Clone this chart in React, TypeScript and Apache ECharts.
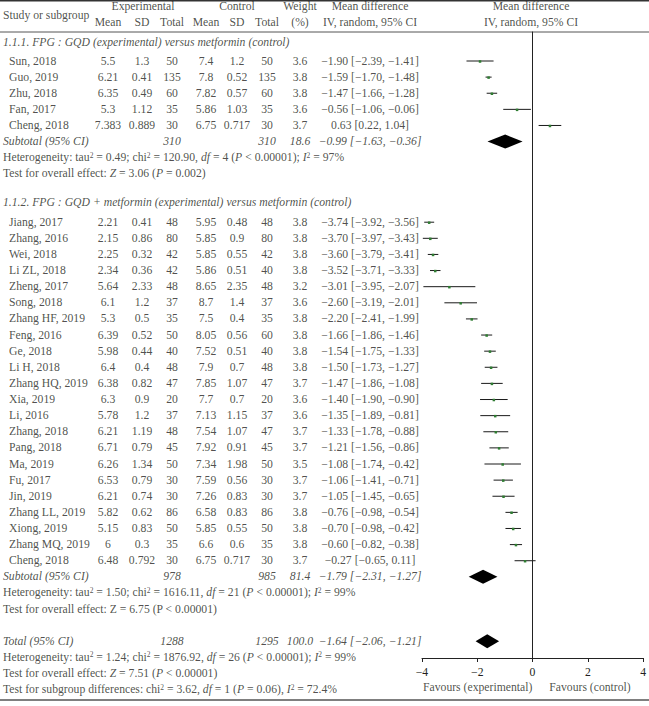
import React, { useEffect, useRef } from "react";
import * as echarts from "echarts";

const W = 649;
const H = 706;
const ROW0 = 61;
const ROWH = 16.12;
const FONT = "'Liberation Serif', 'DejaVu Serif', serif";
const FS = 11.7;
const TXT = "#231f20";

// ---------- data ----------
const g1Names = ["Sun, 2018", "Guo, 2019", "Zhu, 2018", "Fan, 2017", "Cheng, 2018"];
const g1ExpMean = ["5.5", "6.21", "6.35", "5.3", "7.383"];
const g1ExpSD = ["1.3", "0.41", "0.49", "1.12", "0.889"];
const g1ExpN = [50, 135, 60, 35, 30];
const g1CtlMean = ["7.4", "7.8", "7.82", "5.86", "6.75"];
const g1CtlSD = ["1.2", "0.52", "0.57", "1.03", "0.717"];
const g1CtlN = [50, 135, 60, 35, 30];
const g1Weight = ["3.6", "3.8", "3.8", "3.6", "3.7"];
const g1MD = [-1.9, -1.59, -1.47, -0.56, 0.63];
const g1Lo = [-2.39, -1.7, -1.66, -1.06, 0.22];
const g1Hi = [-1.41, -1.48, -1.28, -0.06, 1.04];
const g1Sub = { expN: "310", ctlN: "310", weight: "18.6", md: -0.99, lo: -1.63, hi: -0.36 };

const g2Names = [
  "Jiang, 2017", "Zhang, 2016", "Wei, 2018", "Li ZL, 2018", "Zheng, 2017", "Song, 2018",
  "Zhang HF, 2019", "Feng, 2016", "Ge, 2018", "Li H, 2018", "Zhang HQ, 2019", "Xia, 2019",
  "Li, 2016", "Zhang, 2018", "Pang, 2018", "Ma, 2019", "Fu, 2017", "Jin, 2019",
  "Zhang LL, 2019", "Xiong, 2019", "Zhang MQ, 2019", "Cheng, 2018",
];
const g2ExpMean = ["2.21", "2.15", "2.25", "2.34", "5.64", "6.1", "5.3", "6.39", "5.98", "6.4", "6.38", "6.3", "5.78", "6.21", "6.71", "6.26", "6.53", "6.21", "5.82", "5.15", "6", "6.48"];
const g2ExpSD = ["0.41", "0.86", "0.32", "0.36", "2.33", "1.2", "0.5", "0.52", "0.44", "0.4", "0.82", "0.9", "1.2", "1.19", "0.79", "1.34", "0.79", "0.74", "0.62", "0.83", "0.3", "0.792"];
const g2ExpN = [48, 80, 42, 42, 48, 37, 35, 50, 40, 48, 47, 20, 37, 48, 45, 50, 30, 30, 86, 50, 35, 30];
const g2CtlMean = ["5.95", "5.85", "5.85", "5.86", "8.65", "8.7", "7.5", "8.05", "7.52", "7.9", "7.85", "7.7", "7.13", "7.54", "7.92", "7.34", "7.59", "7.26", "6.58", "5.85", "6.6", "6.75"];
const g2CtlSD = ["0.48", "0.9", "0.55", "0.51", "2.35", "1.4", "0.4", "0.56", "0.51", "0.7", "1.07", "0.7", "1.15", "1.07", "0.91", "1.98", "0.56", "0.83", "0.83", "0.55", "0.6", "0.717"];
const g2CtlN = [48, 80, 42, 40, 48, 37, 35, 60, 40, 48, 47, 20, 37, 47, 45, 50, 30, 30, 86, 50, 35, 30];
const g2Weight = ["3.8", "3.8", "3.8", "3.8", "3.2", "3.6", "3.8", "3.8", "3.8", "3.8", "3.7", "3.6", "3.6", "3.7", "3.7", "3.5", "3.7", "3.7", "3.8", "3.8", "3.8", "3.7"];
const g2MD = [-3.74, -3.7, -3.6, -3.52, -3.01, -2.6, -2.2, -1.66, -1.54, -1.5, -1.47, -1.4, -1.35, -1.33, -1.21, -1.08, -1.06, -1.05, -0.76, -0.7, -0.6, -0.27];
const g2Lo = [-3.92, -3.97, -3.79, -3.71, -3.95, -3.19, -2.41, -1.86, -1.75, -1.73, -1.86, -1.9, -1.89, -1.78, -1.56, -1.74, -1.41, -1.45, -0.98, -0.98, -0.82, -0.65];
const g2Hi = [-3.56, -3.43, -3.41, -3.33, -2.07, -2.01, -1.99, -1.46, -1.33, -1.27, -1.08, -0.9, -0.81, -0.88, -0.86, -0.42, -0.71, -0.65, -0.54, -0.42, -0.38, 0.11];
const g2Sub = { expN: "978", ctlN: "985", weight: "81.4", md: -1.79, lo: -2.31, hi: -1.27 };

const total = { expN: "1288", ctlN: "1295", weight: "100.0", md: -1.64, lo: -2.06, hi: -1.21 };

const g1Title = "1.1.1. FPG : GQD (experimental) versus metformin (control)";
const g2Title = "1.1.2. FPG : GQD + metformin (experimental) versus metformin (control)";
const g1Het = "Heterogeneity: tau{sup|2} = 0.49; chi{sup|2} = 120.90, {i|df} = 4 ({i|P} < 0.00001); {i|I}{sup|2} = 97%";
const g1Test = "Test for overall effect: {i|Z} = 3.06 ({i|P} = 0.002)";
const g2Het = "Heterogeneity: tau{sup|2} = 1.50; chi{sup|2} = 1616.11, {i|df} = 21 ({i|P} < 0.00001); {i|I}{sup|2} = 99%";
const g2Test = "Test for overall effect: Z = 6.75 (P < 0.00001)";
const totHet = "Heterogeneity: tau{sup|2} = 1.24; chi{sup|2} = 1876.92, {i|df} = 26 ({i|P} < 0.00001); {i|I}{sup|2} = 99%";
const totTest = "Test for overall effect: {i|Z} = 7.51 ({i|P} < 0.00001)";
const subTest = "Test for subgroup differences: chi{sup|2} = 3.62, {i|df} = 1 ({i|P} = 0.06), {i|I}{sup|2} = 72.4%";

// ---------- layout (columns) ----------
const COL = { sub: 3, name: 9, em: 108, esd: 142, en: 172, cm: 206, csd: 237, cn: 267, wt: 300, md: 370 };

const minus = (s: string) => s.replace(/-/g, "\u2212");
const f2 = (v: number) => minus(v.toFixed(2));
const ciText = (m: number, l: number, h: number) => `${f2(m)} [${f2(l)}, ${f2(h)}]`;

type Cell = { value: [number, number]; text: string; label?: any };

function buildCells(): Cell[] {
  const cells: Cell[] = [];
  const add = (x: number, row: number, text: string, label: any = {}) =>
    cells.push({ value: [x, row], text, label: { align: "center", ...label } });
  const L = { align: "left" };
  const I = { fontStyle: "italic" };

  add(COL.sub, -2.85, "Study or subgroup", L);
  add(143, -3.35, "Experimental");
  add(237, -3.35, "Control");
  add(COL.wt, -3.35, "Weight");
  add(COL.md, -3.35, "Mean difference");
  add(531, -3.35, "Mean difference");
  add(COL.em, -2.39, "Mean");
  add(COL.esd, -2.39, "SD");
  add(COL.en, -2.39, "Total");
  add(COL.cm, -2.39, "Mean");
  add(COL.csd, -2.39, "SD");
  add(COL.cn, -2.39, "Total");
  add(COL.wt, -2.39, "(%)");
  add(COL.md, -2.39, "IV, random, 95% CI");
  add(531, -2.39, "IV, random, 95% CI");

  const group = (
    startRow: number, titleRow: number, title: string,
    names: string[], em: string[], esd: string[], en: number[], cm: string[], csd: string[], cn: number[],
    wt: string[], md: number[], lo: number[], hi: number[], sub: any, het: string, test: string
  ) => {
    add(COL.sub, titleRow, title, { ...L, ...I });
    names.forEach((n, i) => {
      const r = startRow + i;
      add(COL.name, r, n, L);
      add(COL.em, r, em[i]);
      add(COL.esd, r, esd[i]);
      add(COL.en, r, String(en[i]));
      add(COL.cm, r, cm[i]);
      add(COL.csd, r, csd[i]);
      add(COL.cn, r, String(cn[i]));
      add(COL.wt, r, wt[i]);
      add(COL.md, r, ciText(md[i], lo[i], hi[i]));
    });
    const s = startRow + names.length;
    add(COL.sub, s, "Subtotal (95% CI)", { ...L, ...I });
    add(COL.en, s, sub.expN, I);
    add(COL.cn, s, sub.ctlN, I);
    add(COL.wt, s, sub.weight, I);
    add(COL.md, s, ciText(sub.md, sub.lo, sub.hi), I);
    add(COL.sub, s + 1, het, L);
    add(COL.sub, s + 2, test, L);
  };

  group(0, -1.12, g1Title, g1Names, g1ExpMean, g1ExpSD, g1ExpN, g1CtlMean, g1CtlSD, g1CtlN, g1Weight, g1MD, g1Lo, g1Hi, g1Sub, g1Het, g1Test);
  group(10, 8.8, g2Title, g2Names, g2ExpMean, g2ExpSD, g2ExpN, g2CtlMean, g2CtlSD, g2CtlN, g2Weight, g2MD, g2Lo, g2Hi, g2Sub, g2Het, g2Test);

  add(COL.sub, 36, "Total (95% CI)", { ...L, ...I });
  add(COL.en, 36, total.expN, I);
  add(COL.cn, 36, total.ctlN, I);
  add(COL.wt, 36, total.weight, I);
  add(COL.md, 36, ciText(total.md, total.lo, total.hi), I);
  add(COL.sub, 37, totHet, L);
  add(COL.sub, 38, totTest, L);
  add(COL.sub, 39, subTest, L);

  add(477.7, 38.85, "Favours (experimental)");
  add(590, 38.85, "Favours (control)");
  return cells;
}

export default function App() {
  const ref = useRef<HTMLDivElement>(null);
  useEffect(() => {
    if (!ref.current) return;
    const chart = echarts.init(ref.current, null, { renderer: "svg" });

    const studyData: number[][] = [];
    g1MD.forEach((m, i) => studyData.push([m, g1Lo[i], g1Hi[i], i]));
    g2MD.forEach((m, i) => studyData.push([m, g2Lo[i], g2Hi[i], 10 + i]));
    const diamondData = [
      [g1Sub.md, g1Sub.lo, g1Sub.hi, 5],
      [g2Sub.md, g2Sub.lo, g2Sub.hi, 32],
      [total.md, total.lo, total.hi, 36],
    ];

    const fTop = 32;
    const fBottomY = 658;
    const fLeft = 422;
    const fRight = 646;

    const baseText = { fontFamily: FONT, fontSize: FS, color: TXT };

    chart.setOption({
      animation: false,
      grid: [
        { left: 0, right: 0, top: 0, bottom: 0 },
        { left: fLeft, right: W - fRight, top: fTop, bottom: H - fBottomY },
      ],
      xAxis: [
        { gridIndex: 0, type: "value", min: 0, max: W, show: false },
        {
          gridIndex: 1, type: "value", min: -4, max: 4, interval: 2,
          axisLine: { onZero: false, lineStyle: { color: "#222", width: 1 } },
          axisTick: { show: true, length: 4, lineStyle: { color: "#222" } },
          axisLabel: { ...baseText, margin: 8, formatter: (v: number) => minus(String(v)) },
          splitLine: { show: false },
        },
      ],
      yAxis: [
        { gridIndex: 0, type: "value", inverse: true, min: -ROW0 / ROWH, max: (H - ROW0) / ROWH, show: false },
        {
          gridIndex: 1, type: "value", inverse: true,
          min: (fTop - ROW0) / ROWH, max: (fBottomY - ROW0) / ROWH,
          axisLine: { show: true, onZero: true, lineStyle: { color: "#222", width: 1 } },
          axisTick: { show: false }, axisLabel: { show: false }, splitLine: { show: false },
        },
      ],
      series: [
        {
          type: "scatter", xAxisIndex: 0, yAxisIndex: 0, symbolSize: 0, silent: true,
          data: buildCells(),
          label: {
            show: true, position: "inside", ...baseText, verticalAlign: "middle",
            formatter: (p: any) => p.data.text,
            rich: {
              i: { ...baseText, fontStyle: "italic" },
              sup: { ...baseText, fontSize: 7.5, verticalAlign: "top", padding: [0, 0, 5, 0] },
            },
          },
        },
        {
          type: "custom", xAxisIndex: 1, yAxisIndex: 1, clip: false, silent: true,
          data: studyData,
          renderItem: (_p: any, api: any) => {
            const row = api.value(3);
            const c = api.coord([api.value(0), row]);
            const l = api.coord([api.value(1), row]);
            const r = api.coord([api.value(2), row]);
            return {
              type: "group",
              children: [
                { type: "line", shape: { x1: l[0], y1: l[1], x2: r[0], y2: r[1] }, style: { stroke: "#1a1a1a", lineWidth: 1 } },
                { type: "rect", shape: { x: c[0] - 1.25, y: c[1] - 0.75, width: 2.5, height: 2.5 }, style: { fill: "#2f7d32" } },
              ],
            };
          },
        },
        {
          type: "custom", xAxisIndex: 1, yAxisIndex: 1, clip: false, silent: true,
          data: diamondData,
          renderItem: (_p: any, api: any) => {
            const row = api.value(3);
            const c = api.coord([api.value(0), row]);
            const l = api.coord([api.value(1), row]);
            const r = api.coord([api.value(2), row]);
            return {
              type: "polygon",
              shape: { points: [[l[0], c[1]], [c[0], c[1] - 7], [r[0], c[1]], [c[0], c[1] + 7]] },
              style: { fill: "#000" },
            };
          },
        },
      ],
      graphic: [
        { type: "line", shape: { x1: 0, y1: 0.75, x2: W, y2: 0.75 }, style: { stroke: "#333", lineWidth: 1.5 } },
        { type: "line", shape: { x1: 0, y1: 32, x2: W, y2: 32 }, style: { stroke: "#555", lineWidth: 1 } },
        { type: "line", shape: { x1: 0, y1: 700, x2: W, y2: 700 }, style: { stroke: "#555", lineWidth: 1.5 } },
      ],
    });
    return () => chart.dispose();
  }, []);

  return (
    <div
      ref={ref}
      style={{ position: "fixed", left: 0, top: 0, width: W, height: H, background: "#fff" }}
    />
  );
}
